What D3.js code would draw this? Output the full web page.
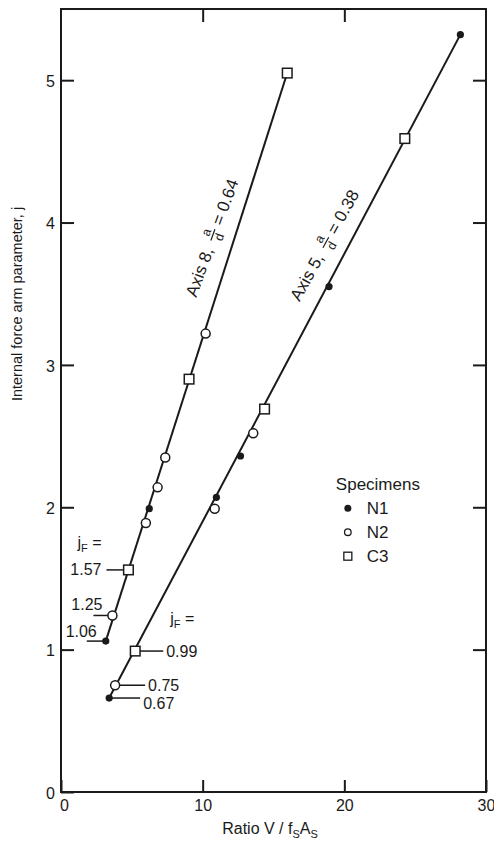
<!DOCTYPE html>
<html>
<head>
<meta charset="utf-8">
<script src="https://cdn.jsdelivr.net/npm/d3@7"></script>
<style>
  body { margin: 0; background: #fff; }
  text { font-family: "Liberation Sans", Arial, sans-serif; fill: #1a1a1a; }
</style>
</head>
<body>
<div id="chart"></div>
<script>
// data
var xTicks = [0, 10, 20, 30];
var yTicks = [0, 1, 2, 3, 4, 5];

// Axis 8, a/d = 0.64
var axis8Ratio = [3.16, 3.63, 4.76, 5.99, 6.23, 6.82, 7.36, 9.04, 10.21, 15.97];
var axis8J     = [1.06, 1.24, 1.56, 1.89, 1.99, 2.14, 2.35, 2.90, 3.22, 5.05];
var axis8Spec  = ["N1", "N2", "C3", "N2", "N1", "N2", "N2", "C3", "N2", "C3"];

// Axis 5, a/d = 0.38
var axis5Ratio = [3.40, 3.82, 5.24, 10.85, 10.97, 12.67, 13.57, 14.37, 18.92, 24.27, 28.19];
var axis5J     = [0.66, 0.75, 0.99, 1.99, 2.07, 2.36, 2.52, 2.69, 3.55, 4.59, 5.32];
var axis5Spec  = ["N1", "N2", "C3", "N2", "N1", "N1", "N2", "C3", "N1", "C3", "N1"];

// j_F labels (first points of each axis)
var jf8Labels = ["1.06", "1.25", "1.57"];
var jf5Labels = ["0.67", "0.75", "0.99"];

var specimens = ["N1", "N2", "C3"];

var svgWidth = 494;
var svgHeight = 842;
var margin = {top: 9, right: 8, bottom: 50, left: 61};
var width = svgWidth - margin.left - margin.right;
var height = svgHeight - margin.top - margin.bottom;

var svg = d3.select("#chart").append("svg")
    .attr("width", svgWidth)
    .attr("height", svgHeight);

var chartGroup = svg.append("g")
    .attr("transform", `translate(${margin.left}, ${margin.top})`);

var xScale = d3.scaleLinear().domain([0, 30]).range([0, 425]);
var yScale = d3.scaleLinear().domain([0, 5.5]).range([height, 0]);

var tickFont = "16px";
var labelFont = "17px";

// frame
chartGroup.append("rect")
    .attr("x", 0).attr("y", 0)
    .attr("width", xScale(30)).attr("height", height)
    .attr("fill", "none").attr("stroke", "#1a1a1a").attr("stroke-width", 2);

// axes, ticks pointing inward
var leftAxis = d3.axisLeft(yScale).tickValues(yTicks).tickSizeInner(-13).tickSizeOuter(0)
    .tickPadding(6).tickFormat(d3.format("d"));
var rightAxis = d3.axisRight(yScale).tickValues(yTicks.slice(1)).tickSizeInner(-13).tickSizeOuter(0).tickFormat("");
var bottomAxis = d3.axisBottom(xScale).tickValues(xTicks).tickSizeInner(-12).tickSizeOuter(0)
    .tickPadding(8).tickFormat(d3.format("d"));
var topAxis = d3.axisTop(xScale).tickValues([10, 20]).tickSizeInner(-13).tickSizeOuter(0).tickFormat("");

var gl = chartGroup.append("g").call(leftAxis);
var gr = chartGroup.append("g").attr("transform", `translate(${xScale(30)},0)`).call(rightAxis);
var gb = chartGroup.append("g").attr("transform", `translate(0,${height})`).call(bottomAxis);
var gt = chartGroup.append("g").call(topAxis);

[gl, gr, gb, gt].forEach(function(g) {
    g.select(".domain").remove();
    g.selectAll("line").attr("stroke", "#1a1a1a").attr("stroke-width", 2);
    g.selectAll("text").style("font-size", tickFont).attr("fill", "#1a1a1a");
});
gl.selectAll("text").attr("dy", "0.38em");
gb.selectAll("text").filter(d => d === 0).attr("dx", 3);

// axis titles
svg.append("text")
    .attr("transform", `translate(22, 304) rotate(-90)`)
    .attr("text-anchor", "middle")
    .style("font-size", "14.5px")
    .text("Internal force arm parameter, j");

var xt = svg.append("text")
    .attr("x", 270).attr("y", 834)
    .attr("text-anchor", "middle")
    .style("font-size", "16px");
xt.append("tspan").text("Ratio V / f");
xt.append("tspan").attr("dy", 4).style("font-size", "11px").text("S");
xt.append("tspan").attr("dy", -4).text("A");
xt.append("tspan").attr("dy", 4).style("font-size", "11px").text("S");

// series
function makeSeries(rx, jy, spec) {
    return rx.map((d, i) => ({x: d, j: jy[i], s: spec[i]}));
}
var axis8 = makeSeries(axis8Ratio, axis8J, axis8Spec);
var axis5 = makeSeries(axis5Ratio, axis5J, axis5Spec);

function drawSeries(data) {
    var first = data[0], last = data[data.length - 1];
    chartGroup.append("line")
        .attr("x1", xScale(first.x)).attr("y1", yScale(first.j))
        .attr("x2", xScale(last.x)).attr("y2", yScale(last.j))
        .attr("stroke", "#1a1a1a").attr("stroke-width", 2);

    var g = chartGroup.append("g");
    g.selectAll("circle.n1")
        .data(data.filter(d => d.s === "N1"))
        .enter().append("circle")
        .attr("cx", d => xScale(d.x)).attr("cy", d => yScale(d.j))
        .attr("r", 3.6).attr("fill", "#1a1a1a");
    g.selectAll("circle.n2")
        .data(data.filter(d => d.s === "N2"))
        .enter().append("circle")
        .attr("cx", d => xScale(d.x)).attr("cy", d => yScale(d.j))
        .attr("r", 4.5).attr("fill", "#fff").attr("stroke", "#1a1a1a").attr("stroke-width", 1.5);
    g.selectAll("rect.c3")
        .data(data.filter(d => d.s === "C3"))
        .enter().append("rect")
        .attr("x", d => xScale(d.x) - 4.8).attr("y", d => yScale(d.j) - 4.8)
        .attr("width", 9.6).attr("height", 9.6)
        .attr("fill", "#fff").attr("stroke", "#1a1a1a").attr("stroke-width", 1.5);
}
drawSeries(axis8);
drawSeries(axis5);

// rotated line labels
function lineLabel(ax, aj, angle, name, val) {
    var g = chartGroup.append("g")
        .attr("transform", `translate(${xScale(ax)},${yScale(aj)}) rotate(${angle})`);
    var t1 = g.append("text").attr("x", 0).attr("y", 0).style("font-size", labelFont).text(name);
    var w = t1.node().getComputedTextLength();
    g.append("text").attr("x", w + 14).attr("y", -9).attr("text-anchor", "middle")
        .style("font-size", "12.5px").text("a");
    g.append("line").attr("x1", w + 8).attr("x2", w + 20).attr("y1", -6).attr("y2", -6)
        .attr("stroke", "#1a1a1a").attr("stroke-width", 1.2);
    g.append("text").attr("x", w + 14).attr("y", 5).attr("text-anchor", "middle")
        .style("font-size", "12.5px").text("d");
    g.append("text").attr("x", w + 25).attr("y", 0).style("font-size", labelFont).text("= " + val);
}
lineLabel(9.55, 3.47, -70, "Axis 8,", "0.64");
lineLabel(16.84, 3.44, -61, "Axis 5,", "0.38");

// j_F annotations
function jfHeader(px, py) {
    var t = chartGroup.append("text").attr("x", px).attr("y", py).style("font-size", "16px");
    t.append("tspan").text("j");
    t.append("tspan").attr("dy", 4).style("font-size", "11px").text("F");
    t.append("tspan").attr("dy", -4).text(" =");
}

// axis 8: labels to the left
var a8 = axis8.slice(0, 3);
var leftOffsets = [{lx: -19, ty: -4, tx: -9}, {lx: -19, ty: -5, tx: -10}, {lx: -22, ty: 5, tx: -27}];
a8.forEach(function(d, i) {
    var px = xScale(d.x), py = yScale(d.j);
    var o = leftOffsets[i];
    chartGroup.insert("line", ":first-child")
        .attr("x1", px + o.lx).attr("x2", px).attr("y1", py).attr("y2", py)
        .attr("stroke", "#1a1a1a").attr("stroke-width", 1.5);
    chartGroup.append("text")
        .attr("x", px + o.tx).attr("y", py + o.ty)
        .attr("text-anchor", "end")
        .style("font-size", "16px")
        .text(jf8Labels[i]);
});
jfHeader(xScale(axis8[2].x) - 51, yScale(axis8[2].j) - 22);

// axis 5: labels to the right
var a5 = axis5.slice(0, 3);
var rightLen = [31, 30, 28];
a5.forEach(function(d, i) {
    var px = xScale(d.x), py = yScale(d.j);
    chartGroup.insert("line", ":first-child")
        .attr("x1", px).attr("x2", px + rightLen[i]).attr("y1", py).attr("y2", py)
        .attr("stroke", "#1a1a1a").attr("stroke-width", 1.5);
    chartGroup.append("text")
        .attr("x", px + rightLen[i] + 3).attr("y", py + (i === 0 ? 11 : 6))
        .style("font-size", "16px")
        .text(jf5Labels[i]);
});
jfHeader(xScale(axis5[2].x) + 35, yScale(axis5[2].j) - 27);

// legend
var legend = chartGroup.append("g").attr("transform", `translate(${xScale(19.4)}, ${yScale(2.12)})`);
legend.append("text").attr("x", 0).attr("y", 0).style("font-size", labelFont).text("Specimens");
specimens.forEach(function(s, i) {
    var row = legend.append("g").attr("transform", `translate(0, ${24 + i * 24})`);
    if (s === "N1") {
        row.append("circle").attr("cx", 12).attr("cy", -6).attr("r", 3.5).attr("fill", "#1a1a1a");
    } else if (s === "N2") {
        row.append("circle").attr("cx", 12).attr("cy", -6).attr("r", 3.3)
            .attr("fill", "#fff").attr("stroke", "#1a1a1a").attr("stroke-width", 1.3);
    } else {
        row.append("rect").attr("x", 8).attr("y", -10).attr("width", 8).attr("height", 8)
            .attr("fill", "#fff").attr("stroke", "#1a1a1a").attr("stroke-width", 1.3);
    }
    row.append("text").attr("x", 31).attr("y", 0).style("font-size", labelFont).text(s);
});
</script>
</body>
</html>
